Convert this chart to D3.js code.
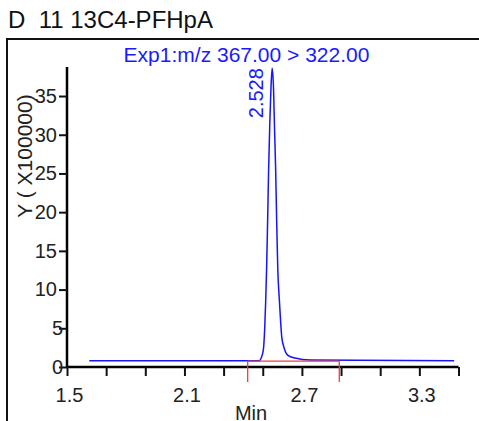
<!DOCTYPE html>
<html>
<head>
<meta charset="utf-8">
<script src="https://cdn.jsdelivr.net/npm/d3@7"></script>
<style>
  html, body { margin: 0; padding: 0; background: #fff; }
  #chart { width: 479px; height: 421px; overflow: hidden; }
  svg { display: block; font-family: "Liberation Sans", Arial, sans-serif; }
</style>
</head>
<body>
<div id="chart"></div>
<script>
// chromatogram trace (time in min, intensity in x100000)
const times = [1.614, 2.481, 2.491, 2.503, 2.510, 2.515, 2.520, 2.525, 2.530, 2.536, 2.542, 2.548,
  2.555, 2.560, 2.566, 2.571, 2.577, 2.584, 2.591, 2.597, 2.610, 2.629, 2.665, 2.742, 3.478];
const intensities = [0.8, 0.8, 1.1, 2.2, 5.0, 8.5, 13.0, 19.0, 25.5, 31.5, 36.0, 38.6,
  36.0, 31.0, 25.4, 19.0, 12.5, 9.0, 6.0, 3.9, 2.4, 1.5, 1.15, 0.9, 0.8];

const xTicks = [1.5, 1.7, 1.9, 2.1, 2.3, 2.5, 2.7, 2.9, 3.1, 3.3, 3.5];
const xLabels = [1.5, 2.1, 2.7, 3.3];
const yTicks = [0, 5, 10, 15, 20, 25, 30, 35];

// integration limits + baseline
const integStart = [2.423];
const integEnd = [2.891];
const integLevel = [0.75];

const peakLabel = "2.528";
const title = "D  11 13C4-PFHpA";
const subtitle = "Exp1:m/z 367.00 > 322.00";

var App = App || {};

(function() {
  let x, y;

  App.init = function() {
    App.svg = d3.select("#chart")
      .append("svg")
      .attr("width", 479)
      .attr("height", 421);

    x = d3.scaleLinear().domain([1.5, 3.5]).range([67, 458.5]);
    y = d3.scaleLinear().domain([0, 38.75]).range([367, 67]);

    drawFrame();
    drawAxes();
    drawTrace();
  };

  function drawFrame() {
    App.svg.append("text")
      .attr("x", 8)
      .attr("y", 28)
      .style("font-size", "24px")
      .style("white-space", "pre")
      .attr("fill", "#111")
      .text(title);

    App.svg.append("rect")
      .attr("x", 7)
      .attr("y", 39)
      .attr("width", 490)
      .attr("height", 420)
      .attr("fill", "none")
      .attr("stroke", "#111")
      .attr("stroke-width", 2);

    App.svg.append("text")
      .attr("x", 246.5)
      .attr("y", 62)
      .attr("text-anchor", "middle")
      .style("font-size", "21px")
      .attr("fill", "#1a1aff")
      .text(subtitle);
  }

  function drawAxes() {
    let xAxis = d3.axisBottom(x)
      .tickValues(xTicks)
      .tickSize(9)
      .tickPadding(12)
      .tickFormat(d => xLabels.some(v => Math.abs(v - d) < 1e-9) ? d3.format(".1f")(d) : "");

    let gx = App.svg.append("g")
      .attr("transform", "translate(0," + y(0) + ")")
      .call(xAxis);

    gx.select(".domain").attr("stroke-width", 2.5).attr("d", "M" + x(1.5) + ",0H" + x(3.5));
    gx.selectAll(".tick line").attr("stroke", "#111").attr("stroke-width", 2);
    gx.selectAll(".tick text")
      .attr("dx", 2)
      .style("font-size", "20px")
      .attr("fill", "#222");

    let yAxis = d3.axisLeft(y)
      .tickValues(yTicks)
      .tickSize(8)
      .tickFormat(d3.format("d"));

    let gy = App.svg.append("g")
      .attr("transform", "translate(" + x(1.5) + ",0)")
      .call(yAxis);

    gy.select(".domain").attr("stroke-width", 2.5).attr("d", "M0," + y(0) + "V" + y.range()[1]);
    gy.selectAll(".tick line").attr("stroke", "#111").attr("stroke-width", 2);
    gy.selectAll(".tick text")
      .attr("x", d => d < 10 ? -4 : -10)
      .style("font-size", "20px")
      .attr("fill", "#222");

    // axis titles
    App.svg.append("text")
      .attr("transform", "translate(32,156) rotate(-90)")
      .attr("text-anchor", "middle")
      .style("font-size", "21px")
      .attr("fill", "#222")
      .text("Y ( X100000)");

    // "Min" sits at the bottom edge, partly cut like the original
    App.svg.append("text")
      .attr("x", 251)
      .attr("y", 420)
      .attr("text-anchor", "middle")
      .style("font-size", "20px")
      .attr("fill", "#222")
      .text("Min");
  }

  function drawTrace() {
    let pts = times.map((t, i) => [t, intensities[i]]);

    let line = d3.line()
      .x(d => x(d[0]))
      .y(d => y(d[1]))
      .curve(d3.curveMonotoneX);

    App.svg.append("path")
      .datum(pts)
      .attr("d", line)
      .attr("fill", "none")
      .attr("stroke", "#1414ff")
      .attr("stroke-width", 1.5);

    // integration baseline (red)
    let ig = App.svg.append("g")
      .attr("stroke", "#f03c3c")
      .attr("stroke-width", 1.3)
      .attr("fill", "none");

    ig.append("line")
      .attr("x1", x(integStart[0])).attr("x2", x(integEnd[0]))
      .attr("y1", y(integLevel[0])).attr("y2", y(integLevel[0]));

    [integStart[0], integEnd[0]].forEach(function(t) {
      ig.append("line")
        .attr("x1", x(t)).attr("x2", x(t))
        .attr("y1", y(integLevel[0])).attr("y2", y(0) + 15);
    });

    // peak retention time label
    let apex = pts[d3.maxIndex(pts, d => d[1])];
    App.svg.append("text")
      .attr("transform", "translate(" + (x(apex[0]) - 9) + "," + y(apex[1]) + ") rotate(-90)")
      .attr("text-anchor", "end")
      .style("font-size", "20px")
      .attr("fill", "#1a1aff")
      .text(peakLabel);
  }

  App.init();
})();
</script>
</body>
</html>
